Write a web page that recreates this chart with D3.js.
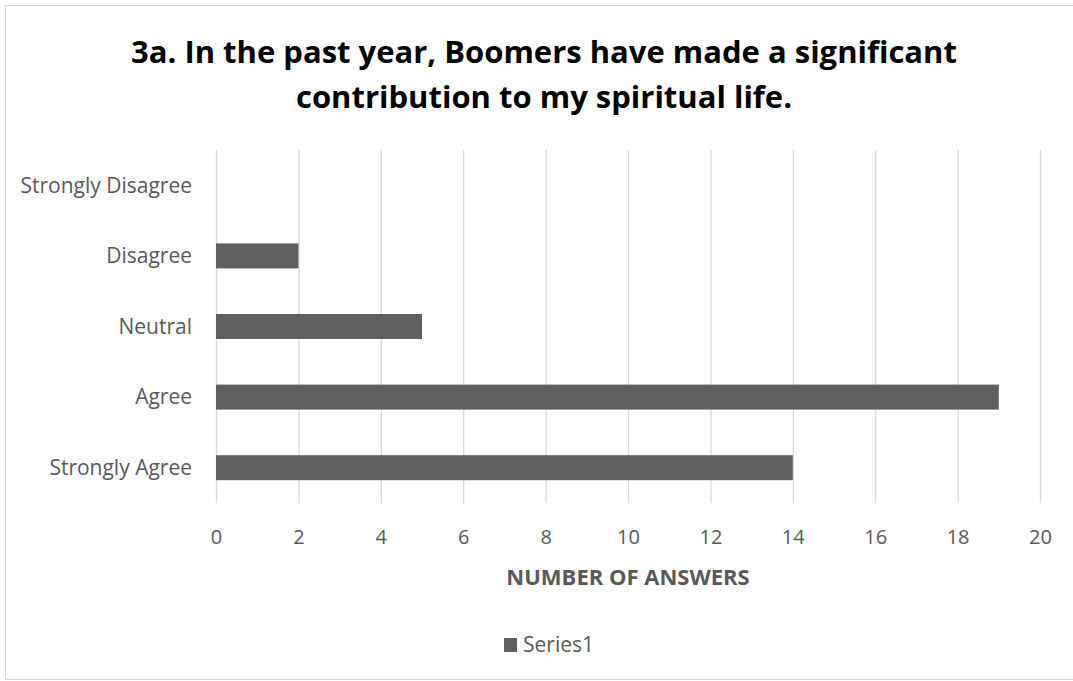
<!DOCTYPE html>
<html>
<head>
<meta charset="utf-8">
<script src="https://cdn.jsdelivr.net/npm/d3@7"></script>
<style>
  html, body { margin: 0; padding: 0; background: #fff; }
  svg { display: block; }
  text { font-family: "Open Sans", "Noto Sans", sans-serif; }
</style>
</head>
<body>
<svg id="chart" width="1073" height="681"></svg>
<script>
// Survey responses, top to bottom as shown
const categories = ["Strongly Disagree", "Disagree", "Neutral", "Agree", "Strongly Agree"];
const answers = [0, 2, 5, 19, 14];
const xTicks = [0, 2, 4, 6, 8, 10, 12, 14, 16, 18, 20];
const titleLines = ["3a. In the past year, Boomers have made a significant", "contribution to my spiritual life."];
const xAxisTitle = "NUMBER OF ANSWERS";
const seriesName = "Series1";

const svg = d3.select("#chart");
const W = 1073, H = 681;
const barColor = "#5f5f5f";
const textColor = "#595959";
const gridColor = "#d9d9d9";

// chart frame
svg.append("rect")
  .attr("x", 5.5).attr("y", 5.5)
  .attr("width", W + 10).attr("height", H - 7)
  .attr("fill", "#fff").attr("stroke", "#d9d9d9").attr("stroke-width", 1);

const plot = { left: 216, right: 1040, top: 150, bottom: 503 };

const x = d3.scaleLinear().domain([0, 20]).range([plot.left, plot.right]);
const y = d3.scaleBand().domain(categories).range([plot.top, plot.bottom]).paddingInner(0.646).paddingOuter(0.323);

// vertical gridlines
svg.append("g").selectAll("line").data(xTicks).join("line")
  .attr("x1", d => x(d) + 0.5).attr("x2", d => x(d) + 0.5)
  .attr("y1", plot.top).attr("y2", plot.bottom)
  .attr("stroke", gridColor).attr("stroke-width", 1.3);

// bars
svg.append("g").selectAll("rect").data(categories).join("rect")
  .attr("x", x(0))
  .attr("y", d => y(d))
  .attr("width", (d, i) => x(answers[i]) - x(0))
  .attr("height", y.bandwidth())
  .attr("fill", barColor);

// category labels
svg.append("g").selectAll("text").data(categories).join("text")
  .attr("x", 192)
  .attr("y", d => y(d) + y.bandwidth() / 2)
  .attr("dy", "0.35em")
  .attr("text-anchor", "end")
  .attr("font-size", 21)
  .attr("fill", textColor)
  .text(d => d);

// x tick labels
const xAxis = d3.axisBottom(x).tickValues(xTicks).tickSize(0).tickPadding(0);
const gx = svg.append("g").attr("transform", `translate(0, ${plot.bottom})`).call(xAxis);
gx.select(".domain").remove();
gx.selectAll("text")
  .attr("y", 41)
  .attr("dy", "0")
  .attr("font-size", 20)
  .attr("font-family", "\"Open Sans\", sans-serif")
  .attr("fill", textColor);

// x axis title
svg.append("text")
  .attr("x", (plot.left + plot.right) / 2)
  .attr("y", 585)
  .attr("text-anchor", "middle")
  .attr("font-size", 22)
  .attr("font-weight", "bold")
  .attr("fill", textColor)
  .text(xAxisTitle);

// chart title
svg.append("g").selectAll("text").data(titleLines).join("text")
  .attr("x", 544)
  .attr("y", (d, i) => 63 + i * 45)
  .attr("text-anchor", "middle")
  .attr("font-size", 31)
  .attr("font-weight", "bold")
  .attr("fill", "#000")
  .text(d => d);

// legend
const legend = svg.append("g").attr("transform", "translate(504, 645)");
legend.append("rect").attr("x", 0).attr("y", -7).attr("width", 13).attr("height", 14).attr("fill", barColor);
legend.append("text").attr("x", 19).attr("y", 0).attr("dy", "0.35em")
  .attr("font-size", 21).attr("fill", textColor).text(seriesName);
</script>
</body>
</html>
